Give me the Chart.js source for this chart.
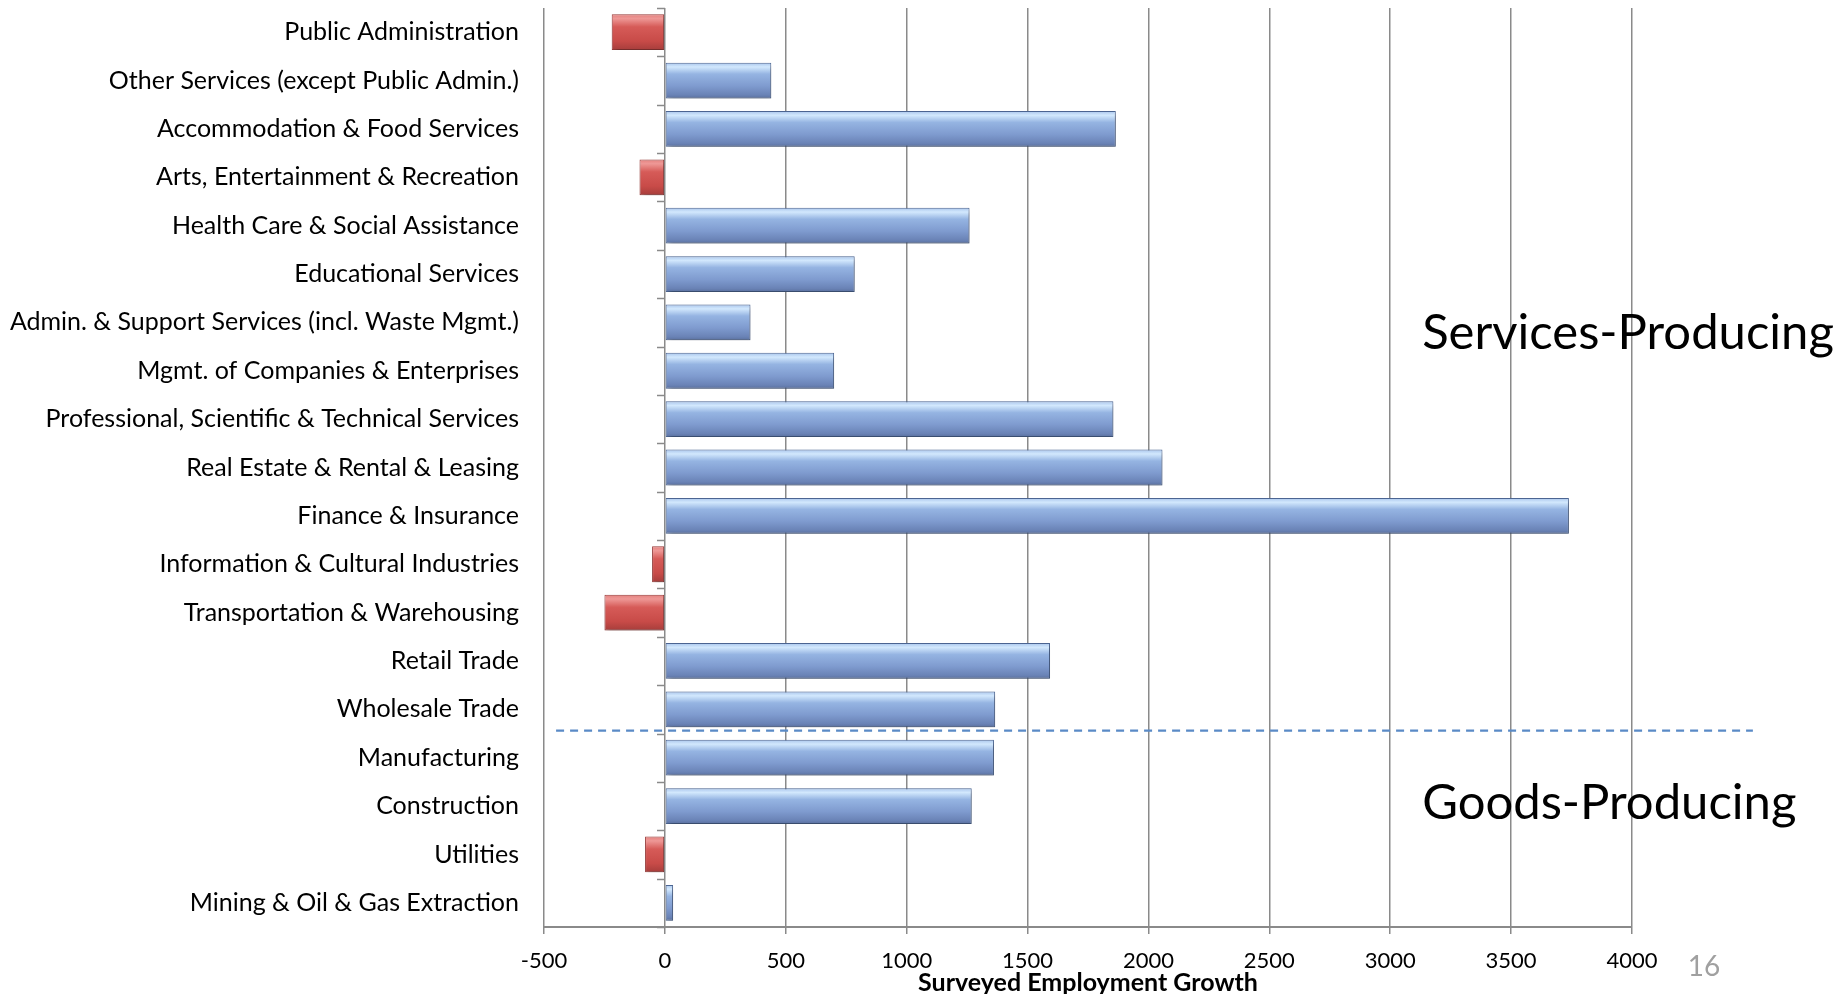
<!DOCTYPE html>
<html>
<head>
<meta charset="utf-8">
<script src="https://cdn.jsdelivr.net/npm/chart.js@4/dist/chart.umd.min.js"></script>
<style>
html,body{margin:0;padding:0;background:#ffffff;}
canvas{display:block;}
</style>
</head>
<body>
<canvas id="c" width="1836" height="994"></canvas>
<script>
const categories = [
  "Public Administration",
  "Other Services (except Public Admin.)",
  "Accommodation & Food Services",
  "Arts, Entertainment & Recreation",
  "Health Care & Social Assistance",
  "Educational Services",
  "Admin. & Support Services (incl. Waste Mgmt.)",
  "Mgmt. of Companies & Enterprises",
  "Professional, Scientific & Technical Services",
  "Real Estate & Rental & Leasing",
  "Finance & Insurance",
  "Information & Cultural Industries",
  "Transportation & Warehousing",
  "Retail Trade",
  "Wholesale Trade",
  "Manufacturing",
  "Construction",
  "Utilities",
  "Mining & Oil & Gas Extraction"
];
const growth = [-220, 440, 1865, -105, 1260, 785, 354, 700, 1855, 2058, 3739, -53, -250, 1593, 1366, 1361, 1269, -82, 34];
const xAxisMin = -500;
const xAxisMax = 4000;
const xAxisStep = 500;
const axisTitle = "Surveyed Employment Growth";
const servicesLabel = "Services-Producing";
const goodsLabel = "Goods-Producing";
const pageNumber = "16";

const FONT = "Lato, 'Open Sans', sans-serif";
const GRID = "#8a8a8a";

function barFill(ctx) {
  const v = ctx.raw;
  const neg = v < 0;
  const chart = ctx.chart;
  const ys = chart.scales && chart.scales.y;
  if (!chart.chartArea || !ys || ctx.type !== 'data') return neg ? '#cd4f4c' : '#819fd2';
  const yc = ys.getPixelForValue(ctx.dataIndex);
  const band = Math.abs(ys.getPixelForValue(1) - ys.getPixelForValue(0));
  const h = band * 0.74;
  const g = chart.ctx.createLinearGradient(0, yc - h / 2, 0, yc + h / 2);
  if (neg) {
    g.addColorStop(0, '#e4817e');
    g.addColorStop(0.12, '#ee9896');
    g.addColorStop(0.35, '#d65b58');
    g.addColorStop(0.75, '#c84b48');
    g.addColorStop(1, '#a63d3b');
  } else {
    g.addColorStop(0, '#a9c5ec');
    g.addColorStop(0.12, '#d2e8fd');
    g.addColorStop(0.32, '#95b4e2');
    g.addColorStop(0.65, '#7f9bcf');
    g.addColorStop(0.9, '#6a83b6');
    g.addColorStop(1, '#5a709e');
  }
  return g;
}

const shadowPlugin = {
  id: 'barShadow',
  beforeDatasetsDraw(chart) {
    const c = chart.ctx;
    const xs = chart.scales.x, ys = chart.scales.y;
    const x0 = Math.round(xs.getPixelForValue(0));
    c.save();
    c.strokeStyle = GRID;
    c.lineWidth = 1.5;
    c.beginPath();
    for (let i = 0; i <= categories.length; i++) {
      const yy = Math.round(ys.getPixelForValue(i - 0.5)) + 0.5;
      c.moveTo(x0 - 8, yy);
      c.lineTo(x0, yy);
    }
    c.stroke();
    c.restore();
    c.save();
    c.shadowColor = 'rgba(0,0,0,0.32)';
    c.shadowBlur = 5;
    c.shadowOffsetX = 2;
    c.shadowOffsetY = 3;
  },
  afterDatasetsDraw(chart) {
    chart.ctx.restore();
  }
};

const annotPlugin = {
  id: 'annot',
  afterDraw(chart) {
    const c = chart.ctx;
    const xs = chart.scales.x, ys = chart.scales.y;
    const yLine = ys.getPixelForValue(14.44);
    c.save();
    c.strokeStyle = '#5a8ac6';
    c.lineWidth = 2.2;
    c.setLineDash([8, 6]);
    c.beginPath();
    c.moveTo(xs.getPixelForValue(-450), yLine);
    c.lineTo(xs.getPixelForValue(4500), yLine);
    c.stroke();
    c.setLineDash([]);
    c.fillStyle = '#000000';
    c.font = "49px " + FONT;
    c.textAlign = 'left';
    c.textBaseline = 'middle';
    c.fillText(servicesLabel, xs.getPixelForValue(3132), ys.getPixelForValue(6.22));
    c.fillText(goodsLabel, xs.getPixelForValue(3132), ys.getPixelForValue(15.94));
    c.fillStyle = '#a0a0a0';
    c.font = "28px " + FONT;
    c.textAlign = 'center';
    c.fillText(pageNumber, 1704, 967);
    c.restore();
  }
};

new Chart(document.getElementById('c'), {
  type: 'bar',
  data: {
    labels: categories,
    datasets: [{
      data: growth,
      backgroundColor: barFill,
      borderColor: (ctx) => (ctx.raw < 0 ? '#9a3c3a' : '#4d6795'),
      borderWidth: 1,
      borderSkipped: false,
      barPercentage: 0.74,
      categoryPercentage: 1.0
    }]
  },
  options: {
    indexAxis: 'y',
    responsive: false,
    animation: false,
    layout: { padding: { left: 0, right: 204, top: 8, bottom: 0 } },
    plugins: {
      legend: { display: false },
      tooltip: { enabled: false }
    },
    scales: {
      x: {
        type: 'linear',
        min: xAxisMin,
        max: xAxisMax,
        ticks: {
          stepSize: xAxisStep,
          color: '#000000',
          font: { family: FONT, size: 22 },
          padding: 14,
          callback: (v) => String(v)
        },
        grid: { color: GRID, lineWidth: 1.5, tickLength: 7 },
        border: { color: GRID, width: 2 },
        title: {
          display: true,
          text: axisTitle,
          color: '#000000',
          font: { family: FONT, size: 25, weight: 'bold' },
          padding: { top: 0, bottom: -4 }
        },
        afterFit(scale) { scale.height = 67; }
      },
      y: {
        type: 'category',
        offset: true,
        ticks: {
          color: '#000000',
          font: { family: FONT, size: 25 },
          padding: 17
        },
        grid: { display: false, offset: true },
        border: { display: false },
        afterFit(scale) {
          scale.width = 544;
          scale.paddingTop = 0;
          scale.paddingBottom = 0;
        }
      }
    }
  },
  plugins: [shadowPlugin, annotPlugin]
});
</script>
</body>
</html>
